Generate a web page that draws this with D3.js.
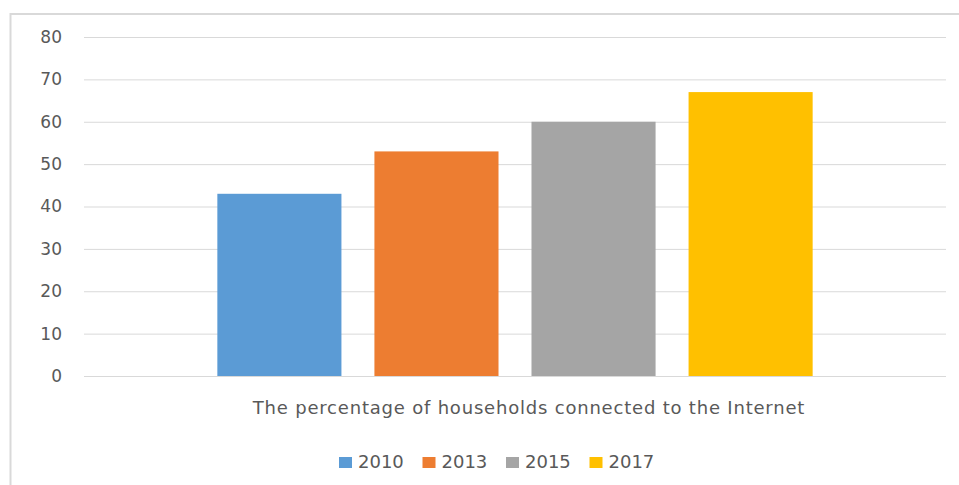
<!DOCTYPE html>
<html>
<head>
<meta charset="utf-8">
<script src="https://cdn.jsdelivr.net/npm/d3@7"></script>
<style>
  html, body { margin: 0; padding: 0; background: #fff; }
  svg { display: block; font-family: "DejaVu Sans", sans-serif; }
</style>
</head>
<body>
<div id="chart"></div>
<script>
const categories = ["The percentage of households connected to the Internet"];
const seriesNames = ["2010", "2013", "2015", "2017"];
const seriesValues = [43, 53, 60, 67];
const seriesColors = ["#5B9BD5", "#ED7D31", "#A5A5A5", "#FFC000"];
const yTicks = [0, 10, 20, 30, 40, 50, 60, 70, 80];

const width = 959;
const height = 485;

const marginLeft = 84;
const marginRight = 13;
const plotTop = 37;
const plotBottom = 376;

const svg = d3.select("#chart")
  .append("svg")
    .attr("width", width)
    .attr("height", height)
    .attr("viewBox", [0, 0, width, height]);

// chart frame (right and bottom edges fall outside the picture)
svg.append("rect")
    .attr("x", 10.5)
    .attr("y", 14)
    .attr("width", 1000)
    .attr("height", 600)
    .attr("fill", "none")
    .attr("stroke", "#d9d9d9")
    .attr("stroke-width", 2);

const y = d3.scaleLinear()
    .domain([0, 80])
    .range([plotBottom, plotTop]);

const x0 = d3.scaleBand()
    .domain(categories)
    .range([marginLeft, width - marginRight])
    .paddingInner(0)
    .paddingOuter(0.224);

const x1 = d3.scaleBand()
    .domain(seriesNames)
    .range([0, x0.bandwidth()])
    .paddingInner(0.21)
    .paddingOuter(0);

// gridlines + labels
svg.append("g")
    .attr("transform", `translate(${marginLeft},0)`)
    .call(d3.axisLeft(y)
        .tickValues(yTicks)
        .tickSize(-(width - marginRight - marginLeft))
        .tickPadding(22))
    .call(g => g.select(".domain").remove())
    .call(g => g.selectAll(".tick line")
        .attr("stroke", "#d9d9d9")
        .attr("stroke-width", 1))
    .call(g => g.selectAll(".tick text")
        .attr("fill", "#595959")
        .attr("font-size", 17)
        .attr("font-family", "DejaVu Sans, sans-serif"));

// bars
const data = seriesNames.map((s, i) => ({ cat: categories[0], name: s, value: seriesValues[i], color: seriesColors[i] }));

svg.append("g")
  .selectAll("rect")
  .data(data)
  .join("rect")
    .attr("x", d => x0(d.cat) + x1(d.name))
    .attr("y", d => y(d.value))
    .attr("width", x1.bandwidth())
    .attr("height", d => y(0) - y(d.value))
    .attr("fill", d => d.color);

// category label
svg.append("text")
    .attr("x", 529)
    .attr("y", 414)
    .attr("text-anchor", "middle")
    .attr("fill", "#595959")
    .attr("font-size", 18)
    .attr("letter-spacing", 0.8)
    .text(categories[0]);

// legend
const legendX = 339;
const legendStep = 83.5;
const legend = svg.append("g")
  .selectAll("g")
  .data(data)
  .join("g")
    .attr("transform", (d, i) => `translate(${legendX + i * legendStep},457)`);

legend.append("rect")
    .attr("width", 13)
    .attr("height", 11)
    .attr("fill", d => d.color);

legend.append("text")
    .attr("x", 19)
    .attr("y", 11)
    .attr("fill", "#595959")
    .attr("font-size", 18)
    .text(d => d.name);
</script>
</body>
</html>
